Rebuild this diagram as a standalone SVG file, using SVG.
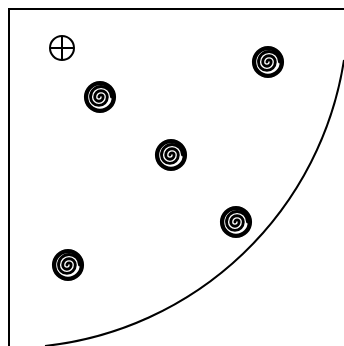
<svg xmlns="http://www.w3.org/2000/svg" width="344" height="346" viewBox="0 0 344 346">
<style>
.ln{fill:none;stroke:#000;stroke-width:2}
.sp{fill:none;stroke:#000;stroke-width:2.4;stroke-linecap:round}
.ring{fill:none;stroke:#000;stroke-width:3.6}
</style>
<defs>
<g id="spiral" transform="scale(1.2)">
<path class="sp" transform="translate(-0.9,0)" d="M0,0 A1.75,1.75 0 0 1 3.5,0 A3.5,3.5 0 0 1 -3.5,0 A5.25,5.25 0 0 1 7,0 A7,7 0 0 1 -7,0 A8.75,8.75 0 0 1 10.5,0"/>
<circle class="ring" cx="0" cy="0" r="11.6"/>
</g>
</defs>
<g id="frame">
<path class="ln" d="M9,346 V9 H344"/>
<path class="ln" d="M45,346 A340,340 0 0 0 344,60"/>
</g>
<g id="crosshair">
<circle class="ln" cx="62" cy="48" r="12"/>
<path class="ln" d="M50,48 H74 M62,36 V60"/>
</g>
<g id="s1"><use href="#spiral" x="100" y="97"/></g>
<g id="s2"><use href="#spiral" x="268" y="62"/></g>
<g id="s3"><use href="#spiral" x="171" y="155"/></g>
<g id="s4"><use href="#spiral" x="236" y="222"/></g>
<g id="s5"><use href="#spiral" x="68" y="265"/></g>
</svg>
